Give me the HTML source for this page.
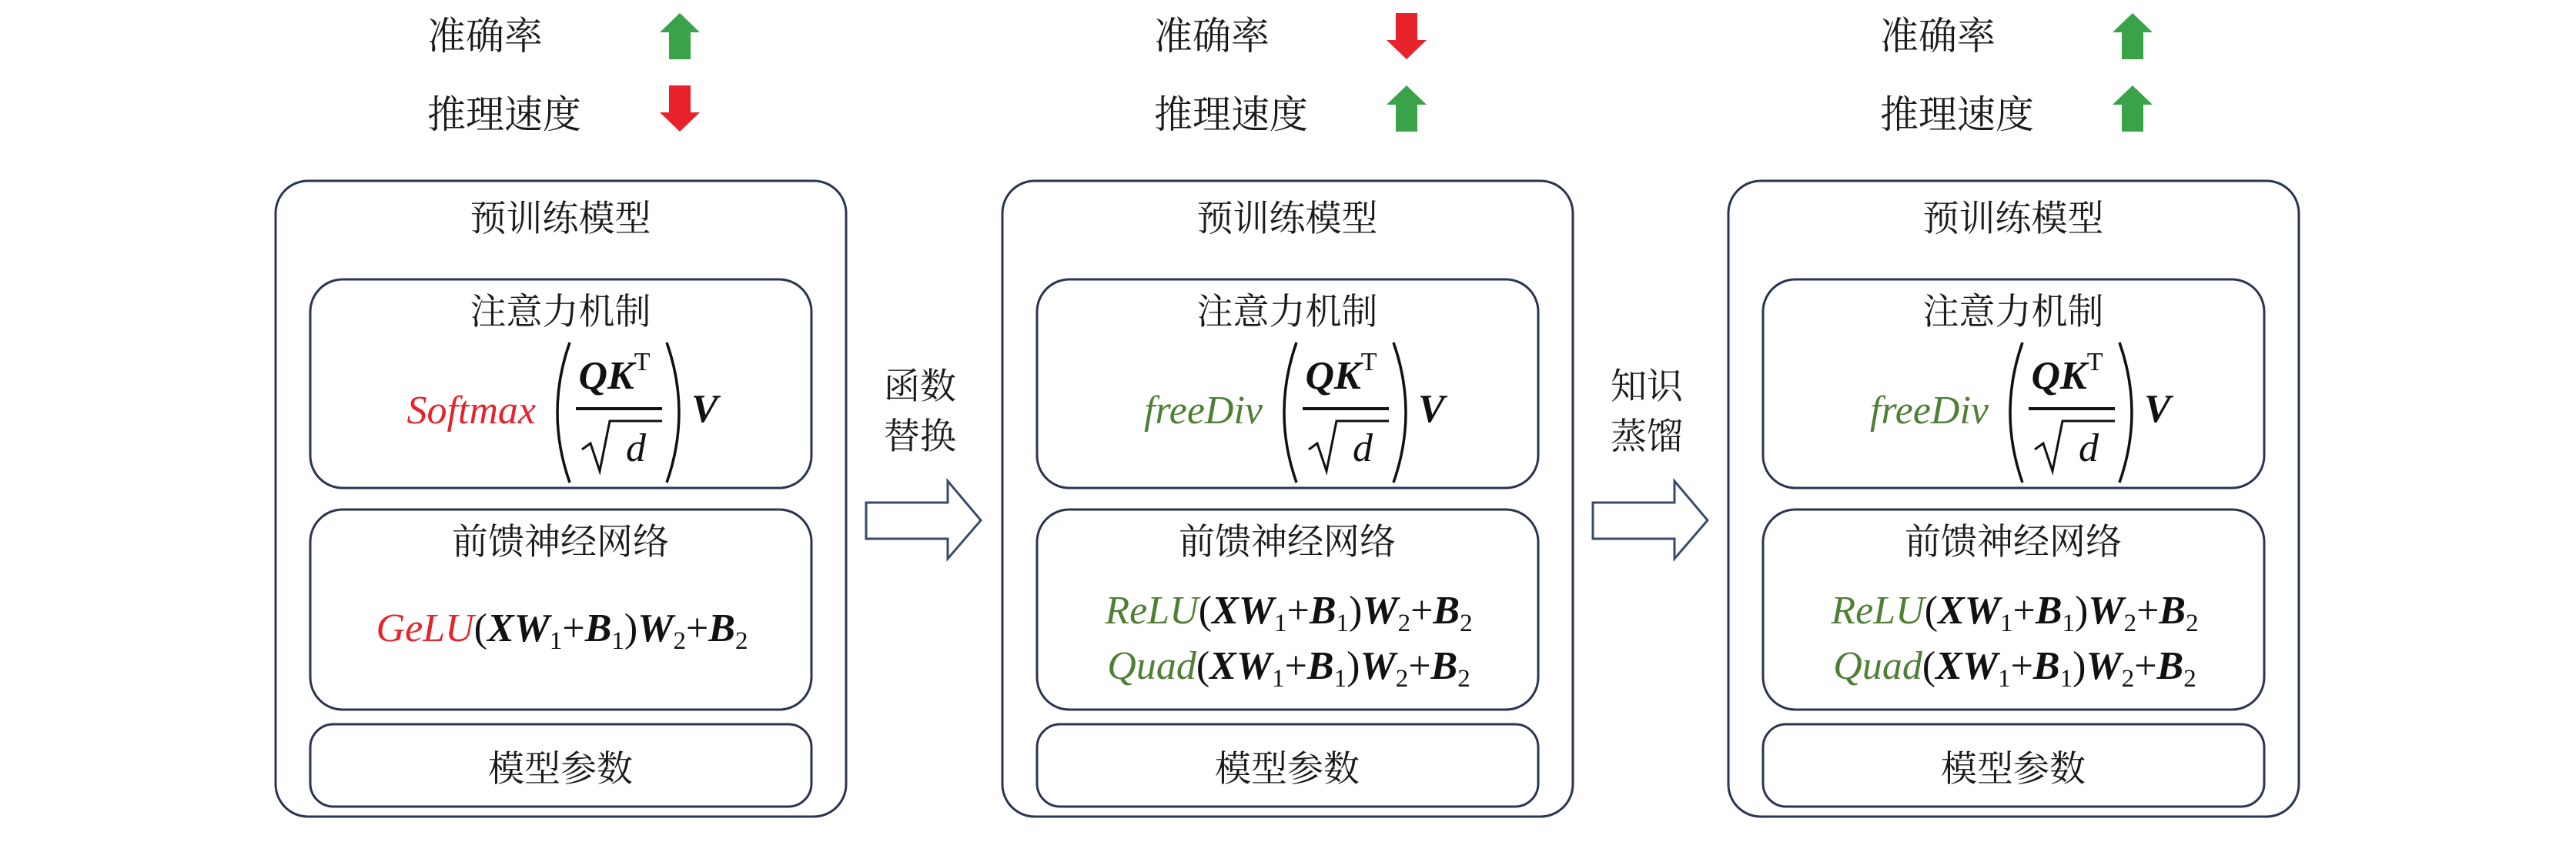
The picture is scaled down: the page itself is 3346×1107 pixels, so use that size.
<!DOCTYPE html>
<html><head><meta charset="utf-8"><style>
html,body{margin:0;padding:0;background:#fff;}
svg{display:block;}
.cj{font-family:"Liberation Serif","Noto Serif CJK SC",serif;font-size:47px;fill:#1a1a1a;}
.cjt{font-family:"Liberation Serif","Noto Serif CJK SC",serif;font-size:50px;fill:#1a1a1a;}
.m{font-family:"Liberation Serif",serif;font-size:52px;fill:#111;}
.b{stroke:#2a3550;stroke-width:3;fill:none;}
</style></head><body>
<svg width="3346" height="1107" viewBox="0 0 3346 1107" xmlns="http://www.w3.org/2000/svg">
<defs>
<g id="panel">
  <rect class="b" x="0" y="235" width="741" height="826" rx="42"/>
  <rect class="b" x="45" y="363" width="651" height="271" rx="42"/>
  <rect class="b" x="45" y="662" width="651" height="260" rx="42"/>
  <rect class="b" x="45" y="941" width="651" height="107" rx="30"/>
  <text class="cj" x="370" y="300" text-anchor="middle">预训练模型</text>
  <text class="cj" x="370" y="421" text-anchor="middle">注意力机制</text>
  <text class="cj" x="370" y="720" text-anchor="middle">前馈神经网络</text>
  <text class="cj" x="370" y="1015" text-anchor="middle">模型参数</text>
  <text class="cjt" x="197" y="64">准确率</text>
  <text class="cjt" x="197" y="166">推理速度</text>
  <path d="M382,445 Q350,536 382,627" stroke="#111" stroke-width="3.5" fill="none"/>
  <path d="M508,445 Q540,536 508,627" stroke="#111" stroke-width="3.5" fill="none"/>
  <text class="m" x="440" y="505" text-anchor="middle" font-weight="bold" font-style="italic" font-size="56">QK<tspan font-size="34" font-weight="normal" font-style="normal" dy="-24">T</tspan></text>
  <line x1="390" y1="531" x2="502" y2="531" stroke="#111" stroke-width="4"/>
  <path d="M398,584 L409,576 L421,612 L434,547 L502,547" stroke="#111" stroke-width="3" fill="none"/>
  <text class="m" x="468" y="599" text-anchor="middle" font-style="italic" font-size="56">d</text>
  <text class="m" x="540" y="548" font-weight="bold" font-style="italic" font-size="54">V</text>
</g>
<g id="up"><polygon points="499,42 525,17 551,42 539,42 539,77 511,77 511,42" fill="#3aa34a"/></g>
<g id="down"><polygon points="511,111 539,111 539,146 551,146 525,171 499,146 511,146" fill="#e8222a"/></g>
</defs>

<g transform="translate(358,0)">
  <use href="#panel"/>
  <use href="#up"/>
  <use href="#down"/>
  <text class="m" x="338" y="550" text-anchor="end" font-style="italic" style="fill:#e8222a">Softmax</text>
  <text class="m" x="372" y="833" text-anchor="middle"><tspan font-style="italic" style="fill:#e8222a">GeLU</tspan>(<tspan font-weight="bold" font-style="italic">XW</tspan><tspan font-size="33" dy="10">1</tspan><tspan dy="-10">+</tspan><tspan font-weight="bold" font-style="italic">B</tspan><tspan font-size="33" dy="10">1</tspan><tspan dy="-10">)</tspan><tspan font-weight="bold" font-style="italic">W</tspan><tspan font-size="33" dy="10">2</tspan><tspan dy="-10">+</tspan><tspan font-weight="bold" font-style="italic">B</tspan><tspan font-size="33" dy="10">2</tspan></text>
</g>

<g transform="translate(1302,0)">
  <use href="#panel"/>
  <use href="#down" transform="translate(0,-94)"/>
  <use href="#up" transform="translate(0,94)"/>
  <text class="m" x="338" y="550" text-anchor="end" font-style="italic" style="fill:#4f7f35">freeDiv</text>
  <text class="m" x="372" y="810" text-anchor="middle"><tspan font-style="italic" style="fill:#4f7f35">ReLU</tspan>(<tspan font-weight="bold" font-style="italic">XW</tspan><tspan font-size="33" dy="10">1</tspan><tspan dy="-10">+</tspan><tspan font-weight="bold" font-style="italic">B</tspan><tspan font-size="33" dy="10">1</tspan><tspan dy="-10">)</tspan><tspan font-weight="bold" font-style="italic">W</tspan><tspan font-size="33" dy="10">2</tspan><tspan dy="-10">+</tspan><tspan font-weight="bold" font-style="italic">B</tspan><tspan font-size="33" dy="10">2</tspan></text>
  <text class="m" x="372" y="882" text-anchor="middle"><tspan font-style="italic" style="fill:#4f7f35">Quad</tspan>(<tspan font-weight="bold" font-style="italic">XW</tspan><tspan font-size="33" dy="10">1</tspan><tspan dy="-10">+</tspan><tspan font-weight="bold" font-style="italic">B</tspan><tspan font-size="33" dy="10">1</tspan><tspan dy="-10">)</tspan><tspan font-weight="bold" font-style="italic">W</tspan><tspan font-size="33" dy="10">2</tspan><tspan dy="-10">+</tspan><tspan font-weight="bold" font-style="italic">B</tspan><tspan font-size="33" dy="10">2</tspan></text>
</g>

<g transform="translate(2245,0)">
  <use href="#panel"/>
  <use href="#up"/>
  <use href="#up" transform="translate(0,94)"/>
  <text class="m" x="338" y="550" text-anchor="end" font-style="italic" style="fill:#4f7f35">freeDiv</text>
  <text class="m" x="372" y="810" text-anchor="middle"><tspan font-style="italic" style="fill:#4f7f35">ReLU</tspan>(<tspan font-weight="bold" font-style="italic">XW</tspan><tspan font-size="33" dy="10">1</tspan><tspan dy="-10">+</tspan><tspan font-weight="bold" font-style="italic">B</tspan><tspan font-size="33" dy="10">1</tspan><tspan dy="-10">)</tspan><tspan font-weight="bold" font-style="italic">W</tspan><tspan font-size="33" dy="10">2</tspan><tspan dy="-10">+</tspan><tspan font-weight="bold" font-style="italic">B</tspan><tspan font-size="33" dy="10">2</tspan></text>
  <text class="m" x="372" y="882" text-anchor="middle"><tspan font-style="italic" style="fill:#4f7f35">Quad</tspan>(<tspan font-weight="bold" font-style="italic">XW</tspan><tspan font-size="33" dy="10">1</tspan><tspan dy="-10">+</tspan><tspan font-weight="bold" font-style="italic">B</tspan><tspan font-size="33" dy="10">1</tspan><tspan dy="-10">)</tspan><tspan font-weight="bold" font-style="italic">W</tspan><tspan font-size="33" dy="10">2</tspan><tspan dy="-10">+</tspan><tspan font-weight="bold" font-style="italic">B</tspan><tspan font-size="33" dy="10">2</tspan></text>
</g>

<path d="M1125,653 L1231,653 L1231,625 L1274,676 L1231,726 L1231,700 L1125,700 Z" fill="#fff" stroke="#3a4a6a" stroke-width="3"/>
<text class="cj" x="1195" y="518" text-anchor="middle">函数</text>
<text class="cj" x="1195" y="583" text-anchor="middle">替换</text>
<path d="M2069,653 L2175,653 L2175,625 L2218,676 L2175,726 L2175,700 L2069,700 Z" fill="#fff" stroke="#3a4a6a" stroke-width="3"/>
<text class="cj" x="2139" y="518" text-anchor="middle">知识</text>
<text class="cj" x="2139" y="583" text-anchor="middle">蒸馏</text>
</svg>
</body></html>
